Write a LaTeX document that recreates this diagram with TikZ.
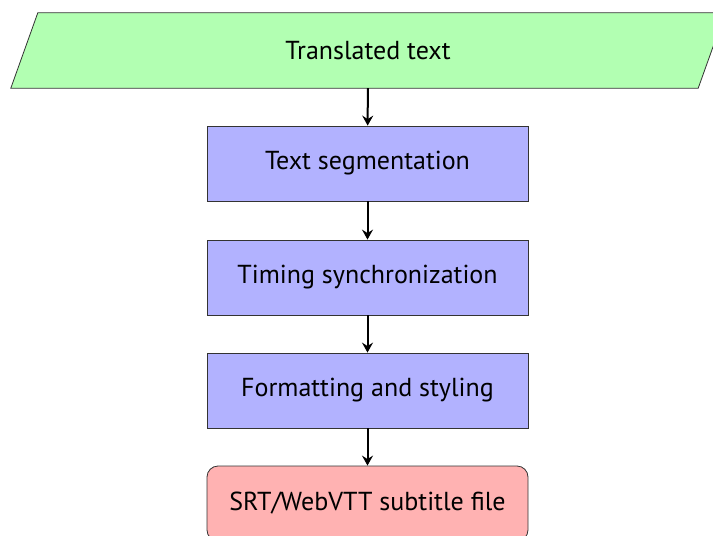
\documentclass[tikz,border=0pt]{standalone}
\usepackage{fontspec}
\setmainfont{PT Sans}
\usetikzlibrary{arrows.meta}
\begin{document}
\begin{tikzpicture}[x=1pt,y=1pt,
  every node/.style={font=\fontsize{26}{30}\selectfont, inner sep=0pt},
  stepbox/.style={rectangle, draw=black!80, line width=0.8pt, fill=blue!30,
    minimum width=321, minimum height=75},
  endbox/.style={stepbox, fill=red!30, rounded corners=11},
  inbox/.style={minimum width=714, minimum height=75},
  flow/.style={line width=2pt, -{Stealth[length=10pt,width=11pt,inset=3.5pt]}}]
  \useasboundingbox (0,0) rectangle (713,-536);
  % input data (parallelogram)
  \node[inbox] (src) at (368,-50.5) {};
  \draw[draw=black!80, line width=0.8pt, fill=green!30]
    (src.south west) -- ([xshift=-27]src.south east) -- (src.north east)
    -- ([xshift=27]src.north west) -- cycle;
  \node at (src.center) {Translated text};
  % processing steps
  \node[stepbox] (seg) at (367.5,-163.5) {Text segmentation};
  \node[stepbox] (sync) at (367.5,-277.5) {Timing synchronization};
  \node[stepbox] (fmt) at (367.5,-390.5) {Formatting and styling};
  \node[endbox] (out) at (367.5,-503.5) {SRT/WebVTT subtitle file};
  % connectors
  \draw[flow] (src) -- (seg);
  \draw[flow] (seg) -- (sync);
  \draw[flow] (sync) -- (fmt);
  \draw[flow] (fmt) -- (out);
\end{tikzpicture}
\end{document}
